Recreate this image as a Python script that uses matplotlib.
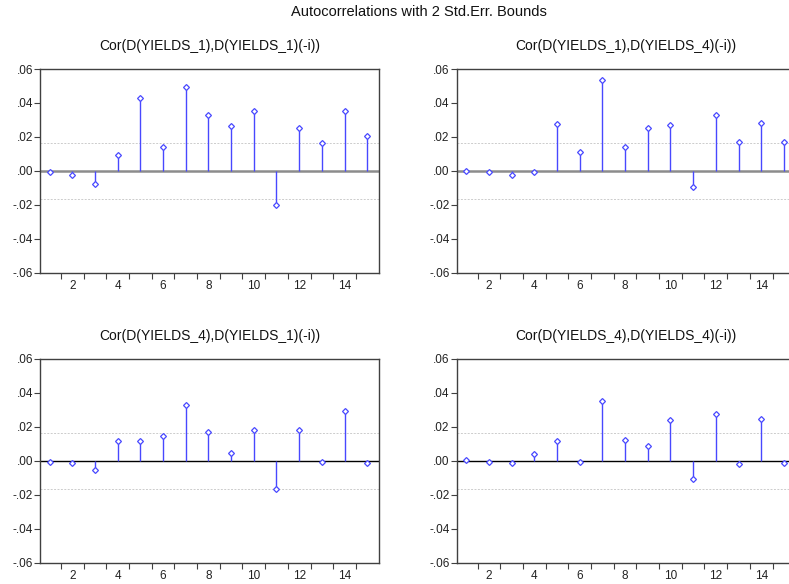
import numpy as np
import matplotlib
matplotlib.use("Agg")
import matplotlib.pyplot as plt

plt.rcParams['font.family'] = ['Liberation Sans', 'DejaVu Sans']

lags = list(range(1, 16))

cor_11 = [-0.0004, -0.0022, -0.0079, 0.0094, 0.0431, 0.0138, 0.0496, 0.0332,
          0.0267, 0.0352, -0.0199, 0.0254, 0.0165, 0.0352, 0.0203]
cor_14 = [0.0002, -0.0008, -0.0022, -0.0004, 0.0279, 0.0114, 0.0537, 0.0142,
          0.0254, 0.0273, -0.0096, 0.0332, 0.0169, 0.0281, 0.0169]
cor_41 = [-0.0004, -0.0014, -0.0055, 0.0114, 0.0118, 0.0146, 0.0330, 0.0170,
          0.0045, 0.0184, -0.0168, 0.0184, -0.0004, 0.0296, -0.0014]
cor_44 = [0.0002, -0.0004, -0.0014, 0.0039, 0.0114, -0.0004, 0.0351, 0.0120,
          0.0087, 0.0241, -0.0107, 0.0278, -0.0018, 0.0249, -0.0014]

titles = ["Cor(D(YIELDS_1),D(YIELDS_1)(-i))", "Cor(D(YIELDS_1),D(YIELDS_4)(-i))",
          "Cor(D(YIELDS_4),D(YIELDS_1)(-i))", "Cor(D(YIELDS_4),D(YIELDS_4)(-i))"]
series = [cor_11, cor_14, cor_41, cor_44]
bound = 0.0165
yticks = [-0.06, -0.04, -0.02, 0.0, 0.02, 0.04, 0.06]
ytick_labels = ["-.06", "-.04", "-.02", ".00", ".02", ".04", ".06"]

fig = plt.figure(figsize=(7.89, 5.84), dpi=100)
fig.text(0.531, 0.979, "Autocorrelations with 2 Std.Err. Bounds",
         ha="center", va="center", fontsize=10.5, color="#111111")

# axes boxes in figure fraction (right column runs past the figure edge)
positions = [(0.0507, 0.533), (0.5788, 0.533), (0.0507, 0.0365), (0.5788, 0.0365)]
w, h = 0.4297, 0.3488
stem_col = "#4848ff"

for i, (vals, title) in enumerate(zip(series, titles)):
    ax = fig.add_axes([positions[i][0], positions[i][1], w, h])
    # zero line: grey and thick on top row, thin black on bottom row
    if i < 2:
        ax.axhline(0, color="#8c8c8c", lw=1.8, zorder=1)
    else:
        ax.axhline(0, color="black", lw=1.0, zorder=1)
    ax.axhline(bound, color="#cccccc", lw=0.7, ls=(0, (2, 1.5)), zorder=1)
    ax.axhline(-bound, color="#cccccc", lw=0.7, ls=(0, (2, 1.5)), zorder=1)

    ax.vlines(lags, 0, vals, color=stem_col, lw=1.0, zorder=2)
    ax.plot(lags, vals, "D", ms=3.0, mfc="white", mec=stem_col, mew=0.9,
            ls="none", zorder=3)

    ax.set_xlim(0.58, 15.52)
    ax.set_ylim(-0.06, 0.06)
    ax.set_yticks(yticks)
    ax.set_yticklabels(ytick_labels)
    ax.set_xticks([2, 4, 6, 8, 10, 12, 14])
    ax.set_xticks(np.arange(1.5, 15.5, 1), minor=True)
    ax.tick_params(axis="x", which="major", length=0, pad=5, labelsize=8.5,
                   labelcolor="#222222")
    ax.tick_params(axis="x", which="minor", length=4, width=0.8, color="#404040")
    ax.tick_params(axis="y", length=4, width=0.8, color="#404040",
                   labelsize=8.5, labelcolor="#222222", pad=1)
    for sp in ax.spines.values():
        sp.set_color("#404040")
        sp.set_linewidth(1.0)
    ax.set_title(title, fontsize=10, pad=14, color="#111111")

fig.savefig("out.png", dpi=100)
